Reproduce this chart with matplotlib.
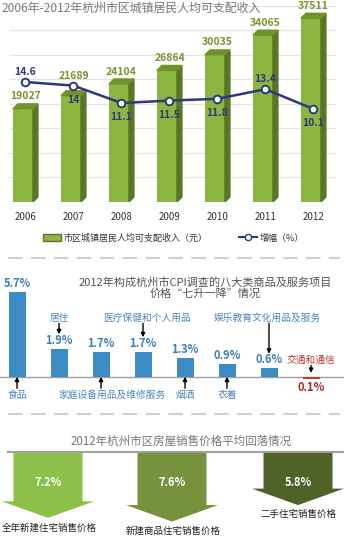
import matplotlib.pyplot as plt
import numpy as np
from matplotlib.patches import Polygon, FancyArrow
from matplotlib.lines import Line2D
from matplotlib.patches import Patch

plt.rcParams['font.family'] = ['Noto Sans CJK SC', 'DejaVu Sans']

# --- data ---
years = ['2006', '2007', '2008', '2009', '2010', '2011', '2012']
income = [19027, 21689, 24104, 26864, 30035, 34065, 37511]
growth = [14.6, 14, 11.1, 11.5, 11.8, 13.4, 10.1]
growth_above = [True, False, False, False, False, True, False]
income_label_lift = [0, 1600, 0, 0, 0, 0, 0]

cpi_names = ['食品', '居住', '家庭设备用品及维修服务', '医疗保健和个人用品',
             '烟酒', '衣着', '娱乐教育文化用品及服务', '交通和通信']
cpi_values = [5.7, 1.9, 1.7, 1.7, 1.3, 0.9, 0.6, -0.1]
cpi_label_above = [False, True, False, True, False, False, True, True]
cpi_label_dx = [0, 0, 0.26, 0.1, 0, 0, -0.05, 0]

house_names = ['全年新建住宅销售价格', '新建商品住宅销售价格', '二手住宅销售价格']
house_drop = [7.2, 7.6, 5.8]
house_x = [48, 172, 298]
house_colors = ['#8DC04A', '#77923C', '#4F6228']

W, H = 347, 550
fig = plt.figure(figsize=(W / 100, H / 100), dpi=100)


def box(top, bottom, left=0, right=W):
    return [left / W, 1 - bottom / H, (right - left) / W, (bottom - top) / H]


# overlay in pixel coordinates for titles and separators
ov = fig.add_axes([0, 0, 1, 1], zorder=5)
ov.set_xlim(0, W)
ov.set_ylim(H, 0)
ov.axis('off')

# ---------------- panel 1 ----------------
ax = fig.add_axes(box(6, 202))
ax.set_xlim(-0.53, -0.53 + W / 48)
ax.set_ylim(0, 40000)
for s in ax.spines.values():
    s.set_visible(False)
ax.set_yticks([])
ax.hlines(np.arange(5000, 40001, 5000), -0.35, 6.45, color='#E2E2E2', lw=0.9, zorder=0)
ax.hlines(0, -0.45, 6.5, color='#D0D0D0', lw=0.9, zorder=0)

x = np.arange(len(years))
fw, sw, cap = 0.416, 0.104, 1000
x0 = x - 0.26
bars = ax.bar(x0, income, width=fw, align='edge', color='#8CB640', zorder=2)
for xi, v in zip(x0, income):
    x1 = xi + fw
    ax.add_patch(Polygon([(x1, 0), (x1 + sw, cap), (x1 + sw, v + cap), (x1, v)],
                         closed=True, color='#5A7524', zorder=2))
    ax.add_patch(Polygon([(xi, v), (x1, v), (x1 + sw, v + cap), (xi + sw, v + cap)],
                         closed=True, color='#6F922A', zorder=2))
for xi, v, lift in zip(x, income, income_label_lift):
    ax.text(xi, v + 1500 + lift, str(v), ha='center', va='bottom', fontsize=7.5,
            fontweight='bold', color='#7C9130', zorder=4)
ax.set_xticks(x)
ax.set_xticklabels(years, fontsize=7, color='#333333')
ax.tick_params(axis='x', length=0, pad=7)

ax2 = ax.twinx()
ax2.set_ylim(-5.4, -5.4 + 196 / 6)
ax2.axis('off')
ax2.plot(x, growth, color='#2B3A80', lw=1.8, marker='o', ms=5.5,
         mfc='white', mec='#2B3A80', mew=1.4, zorder=5)
for xi, g, up in zip(x, growth, growth_above):
    if up:
        ax2.text(xi, g + 0.9, f'{g:g}', ha='center', va='bottom', fontsize=7.5,
                 fontweight='bold', color='#2B3A80')
    else:
        ax2.text(xi, g - 1.5, f'{g:g}', ha='center', va='top', fontsize=7.5,
                 fontweight='bold', color='#2B3A80')

ov.text(2, 8, '2006年-2012年杭州市区城镇居民人均可支配收入', fontsize=8.6,
        color='#7A7A7A', ha='left', va='center')

handles = [Patch(facecolor='#8CB640', edgecolor='#5A7524'),
           Line2D([], [], color='#2B3A80', lw=1.5, marker='o', ms=4.5,
                  mfc='white', mec='#2B3A80')]
fig.legend(handles, ['市区城镇居民人均可支配收入（元）', '增幅（%）'],
           loc='center', bbox_to_anchor=(0.5, 1 - 238 / H), ncol=2,
           frameon=False, fontsize=6.5, handlelength=2, handletextpad=0.3,
           columnspacing=3.5, labelcolor='#333333')

for yy in (258, 414):
    ov.plot([8, 340], [yy, yy], color='#D0D0D0', lw=1.5, dashes=(7, 4))

# ---------------- panel 2 ----------------
bx = fig.add_axes(box(262, 410))
bx.set_xlim(-0.405, -0.405 + W / 42)
bx.set_ylim(-(410 - 377) / 15, (377 - 262) / 15)
bx.axis('off')
xc = np.arange(len(cpi_names))
colors2 = ['#3D8BC4' if v > 0 else '#C0392B' for v in cpi_values]
bx.bar(xc, cpi_values, width=0.405, color=colors2, zorder=2)
bx.axhline(0, xmin=0, xmax=343 / W, color='#A0A0A0', lw=1, zorder=1)

for i, (name, v, up, dx) in enumerate(zip(cpi_names, cpi_values, cpi_label_above, cpi_label_dx)):
    red = v < 0
    vcol = '#A52A2A' if red else '#3A7FB8'
    ncol = '#C0392B' if red else '#4A86BE'
    if v > 0:
        bx.text(i, v + 0.12, f'{v:.1f}%', ha='center', va='bottom', fontsize=8,
                fontweight='bold', color=vcol)
    else:
        bx.text(i, v - 0.15, f'{abs(v):.1f}%', ha='center', va='top', fontsize=8,
                fontweight='bold', color=vcol)
    if up:
        ly = 3.93 if v > 0 else 1.13
        end = v + 0.95 if v > 0 else 0.27
        bx.text(i + dx, ly, name, ha='center', va='center', fontsize=7, color=ncol)
        bx.annotate('', xy=(i, end), xytext=(i, ly - 0.35),
                    arrowprops=dict(arrowstyle='-|>', color='black', lw=1,
                                    mutation_scale=6, shrinkA=0, shrinkB=0))
    else:
        bx.text(i + dx, -1.2, name, ha='center', va='center', fontsize=7, color=ncol)
        bx.annotate('', xy=(i, 0.02), xytext=(i, -0.75),
                    arrowprops=dict(arrowstyle='-|>', color='black', lw=1,
                                    mutation_scale=6, shrinkA=0, shrinkB=0))

ov.text(205, 282, '2012年构成杭州市CPI调查的八大类商品及服务项目', fontsize=8,
        color='#555555', ha='center', va='center')
ov.text(205, 294, '价格“七升一降”情况', fontsize=8,
        color='#555555', ha='center', va='center')

# ---------------- panel 3 ----------------
ov.text(181, 441, '2012年杭州市区房屋销售价格平均回落情况', fontsize=8.3,
        color='#777777', ha='center', va='center')
ov.plot([8, 343], [452, 452], color='#A0A0A0', lw=1.5)

sc = 9.15
cx = fig.add_axes(box(452, 550), zorder=3)
cx.set_xlim(0, W)
cx.set_ylim(-(550 - 452) / sc, 0)
cx.axis('off')
for xc3, v, name, col in zip(house_x, house_drop, house_names, house_colors):
    cx.add_patch(FancyArrow(xc3, 0, 0, -v, width=69, head_width=92,
                            head_length=1.8, length_includes_head=True,
                            color=col, lw=0))
    cx.text(xc3, -3.3, f'{v}%', ha='center', va='center', fontsize=8,
            fontweight='bold', color='white')
    cx.text(xc3 + 1, -(v + 1.05), name, ha='center', va='center', fontsize=6.8,
            color='#222222', clip_on=False)

fig.savefig('out.png', dpi=100)
